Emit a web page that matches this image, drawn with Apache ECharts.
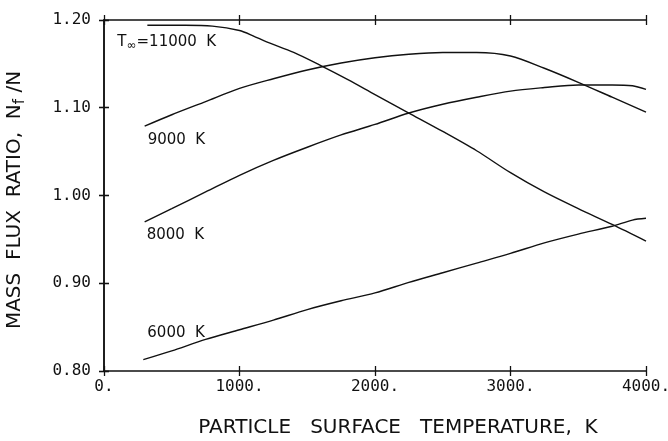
<!DOCTYPE html>
<html>
<head>
<meta charset="utf-8">
<script src="https://cdn.jsdelivr.net/npm/echarts@6/dist/echarts.min.js"></script>
<style>
  html, body { margin: 0; padding: 0; background: #fff; }
  #main { width: 668px; height: 441px; }
</style>
</head>
<body>
<div id="main"></div>
<script>
// particle surface temperature (K) vs mass flux ratio Nf/N
var temp11000 = [320, 600, 800, 1000, 1100, 1200, 1400, 1600, 1800, 2000, 2250, 2500, 2750, 3000, 3250, 3500, 3750, 4000];
var flux11000 = [1.194, 1.194, 1.193, 1.188, 1.182, 1.175, 1.163, 1.148, 1.132, 1.115, 1.094, 1.073, 1.051, 1.026, 1.004, 0.985, 0.967, 0.948];

var temp9000 = [300, 500, 750, 1000, 1250, 1500, 1750, 2000, 2250, 2500, 2750, 3000, 3250, 3500, 3750, 4000];
var flux9000 = [1.079, 1.092, 1.107, 1.122, 1.133, 1.143, 1.151, 1.157, 1.161, 1.163, 1.163, 1.159, 1.145, 1.129, 1.112, 1.095];

var temp8000 = [300, 500, 750, 1000, 1250, 1500, 1750, 2000, 2250, 2500, 2750, 3000, 3250, 3500, 3750, 3900, 4000];
var flux8000 = [0.970, 0.985, 1.004, 1.023, 1.040, 1.055, 1.069, 1.081, 1.094, 1.104, 1.112, 1.119, 1.123, 1.126, 1.126, 1.125, 1.121];

var temp6000 = [290, 500, 750, 1000, 1250, 1500, 1750, 2000, 2250, 2500, 2750, 3000, 3250, 3500, 3750, 3900, 4000];
var flux6000 = [0.813, 0.823, 0.836, 0.847, 0.858, 0.870, 0.880, 0.889, 0.901, 0.912, 0.923, 0.934, 0.946, 0.956, 0.965, 0.972, 0.974];

var ink = '#111';
var sans = 'DejaVu Sans';
var mono = 'DejaVu Sans Mono';

function curve(name, temps, flux, text, offset) {
  return {
    name: name,
    type: 'line',
    xAxisIndex: 0,
    yAxisIndex: 0,
    data: temps.map(function (t, i) { return [t, flux[i]]; }),
    showSymbol: false,
    smooth: 0.3,
    lineStyle: { color: ink, width: 1.4 },
    silent: true,
    markPoint: {
      symbol: 'circle',
      symbolSize: 0,
      silent: true,
      data: [{ coord: [temps[0], flux[0]] }],
      label: {
        show: true,
        position: 'inside',
        offset: offset,
        align: 'left',
        verticalAlign: 'middle',
        formatter: text,
        color: ink,
        fontFamily: sans,
        fontSize: 15,
        rich: {
          t: { fontFamily: sans, fontSize: 15, color: ink, verticalAlign: 'top' },
          s: { fontFamily: sans, fontSize: 12, color: ink, verticalAlign: 'top', padding: [6, 0, 0, 0] }
        }
      }
    }
  };
}

function xAx(pos, inside, main) {
  return {
    type: 'value', position: pos, min: 0, max: 4000, interval: 1000,
    axisLine: { show: !inside, lineStyle: { color: ink, width: 1.5 } },
    axisTick: { show: true, inside: inside, length: 5, lineStyle: { color: ink, width: 1.3 } },
    axisLabel: main ? {
      show: true, margin: 8, color: ink, fontFamily: mono, fontSize: 16,
      formatter: function (v) { return v + '.'; }
    } : { show: false },
    splitLine: { show: false },
    name: main ? 'PARTICLE   SURFACE   TEMPERATURE,  K' : '',
    nameLocation: 'middle',
    nameGap: 47,
    nameTextStyle: { color: ink, fontFamily: sans, fontSize: 20, padding: [0, 0, 0, 46] }
  };
}

function yAx(pos, inside, main) {
  return {
    type: 'value', position: pos, min: 0.8, max: 1.2, interval: 0.1,
    axisLine: { show: !inside, lineStyle: { color: ink, width: 1.5 } },
    axisTick: { show: true, inside: inside, length: 5, lineStyle: { color: ink, width: 1.3 } },
    axisLabel: main ? {
      show: true, margin: 13, color: ink, fontFamily: mono, fontSize: 16,
      formatter: function (v) { return v.toFixed(2); }
    } : { show: false },
    splitLine: { show: false },
    name: main ? '{t|MASS  FLUX  RATIO,  N}{s|f}{t| /N}' : '',
    nameLocation: 'middle',
    nameRotate: 90,
    nameGap: 76,
    nameTextStyle: {
      color: ink, fontFamily: sans, fontSize: 20, padding: [0, 9, 0, 0],
      rich: {
        t: { fontFamily: sans, fontSize: 20, color: ink, verticalAlign: 'top' },
        s: { fontFamily: sans, fontSize: 15, color: ink, verticalAlign: 'top', padding: [8, 0, 0, 0] }
      }
    }
  };
}

var option = {
  backgroundColor: '#fff',
  animation: false,
  grid: { left: 104, right: 22, top: 20, bottom: 70, containLabel: false, outerBoundsMode: 'none' },
  xAxis: [xAx('bottom', false, true), xAx('bottom', true, false), xAx('top', false, false), xAx('top', true, false)],
  yAxis: [yAx('left', false, true), yAx('left', true, false), yAx('right', false, false), yAx('right', true, false)],
  series: [
    curve('11000 K', temp11000, flux11000, '{t|T}{s|\u221e}{t|=11000  K}', [-30, 18]),
    curve('9000 K', temp9000, flux9000, '9000  K', [3, 14]),
    curve('8000 K', temp8000, flux8000, '8000  K', [2, 13]),
    curve('6000 K', temp6000, flux6000, '6000  K', [4, -26])
  ]
};

var chart = echarts.init(document.getElementById('main'), null, { renderer: 'canvas' });
chart.setOption(option);
</script>
</body>
</html>
